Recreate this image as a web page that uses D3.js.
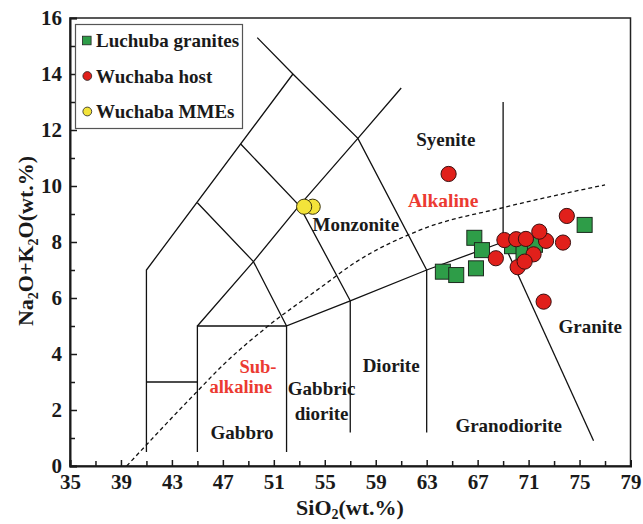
<!DOCTYPE html>
<html>
<head>
<meta charset="utf-8">
<script src="https://cdn.jsdelivr.net/npm/d3@7"></script>
<style>
  body { margin: 0; background: #fff; }
  text { font-family: "Liberation Serif", "Times New Roman", serif; font-weight: bold; fill: #1a1a1a; }
</style>
</head>
<body>
<div id="viz"></div>
<script>
// ---- data: SiO2 (wt.%), Na2O+K2O (wt.%) ----
const X_TICKS = [35, 39, 43, 47, 51, 55, 59, 63, 67, 71, 75, 79];
const Y_TICKS = [0, 2, 4, 6, 8, 10, 12, 14, 16];

const luchubaGranites = [
  [64.27, 6.94], [65.32, 6.82], [66.74, 8.15], [66.87, 7.06], [67.34, 7.71],
  [69.7, 7.85], [70.6, 7.65], [71.5, 7.9], [75.4, 8.61]
];
const wuchabaHost = [
  [64.72, 10.43], [68.43, 7.42], [69.1, 8.07], [70.03, 8.1], [70.79, 8.11],
  [72.37, 8.04], [71.84, 8.37], [73.7, 7.98], [74.0, 8.93],
  [71.39, 7.56], [70.14, 7.1], [70.69, 7.3], [72.18, 5.87]
];
const wuchabaMMEs = [[54.05, 9.26], [53.38, 9.26]];

// field boundaries (Middlemost-style plutonic TAS)
const fieldLines = [
  [[41, 0.5], [41, 7], [52.5, 14]],
  [[41, 3], [45, 3]],
  [[45, 0.5], [45, 5], [52, 5]],
  [[45, 5], [49.4, 7.3], [53, 9.3], [57.6, 11.7], [61, 13.5]],
  [[45, 9.4], [49.4, 7.3], [52, 5]],
  [[48.4, 11.5], [53, 9.3], [57, 5.9]],
  [[49.7, 15.3], [52.5, 14], [57.6, 11.7], [63, 7]],
  [[52, 0.5], [52, 5], [57, 5.9], [63, 7], [69, 8]],
  [[57, 1.2], [57, 5.9]],
  [[63, 1.2], [63, 7]],
  [[69, 8], [69, 13]],
  [[69, 8], [76.1, 0.9]]
];
const alkalineDivide = [
  [39.45, 0], [45.08, 2.71], [47, 3.6], [50.5, 4.98], [54.6, 6.35],
  [57.5, 7.3], [62.5, 8.43], [69.2, 9.25], [77.0, 10.04]
];

const fieldLabels = [
  { lines: ['Syenite'], at: [64.5, 11.43], anchor: 'middle' },
  { lines: ['Monzonite'], at: [54.04, 8.39], anchor: 'start' },
  { lines: ['Granite'], at: [75.84, 4.74], anchor: 'middle' },
  { lines: ['Diorite'], at: [60.21, 3.37], anchor: 'middle' },
  { lines: ['Granodiorite'], at: [69.44, 1.23], anchor: 'middle' },
  { lines: ['Gabbric', 'diorite'], at: [54.75, 2.54], anchor: 'middle' },
  { lines: ['Gabbro'], at: [48.51, 0.95], anchor: 'middle' }
];

const WIDTH = 643;
const HEIGHT = 524;
const PLOT = { left: 70, right: 630.5, top: 18, bottom: 466 };
const RED_TEXT = '#ec3a31';

const svg = d3.select('#viz').append('svg')
  .attr('width', WIDTH)
  .attr('height', HEIGHT);

const x = d3.scaleLinear().domain([35, 79]).range([PLOT.left, PLOT.right]);
const y = d3.scaleLinear().domain([0, 16]).range([PLOT.bottom, PLOT.top]);

// frame
svg.append('rect')
  .attr('x', PLOT.left).attr('y', PLOT.top)
  .attr('width', PLOT.right - PLOT.left).attr('height', PLOT.bottom - PLOT.top)
  .attr('fill', 'none').attr('stroke', '#222').attr('stroke-width', 1.5);

// field boundaries
const line = d3.line().x(d => x(d[0])).y(d => y(d[1]));
svg.append('g').attr('class', 'fields')
  .selectAll('path')
  .data(fieldLines)
  .join('path')
  .attr('d', line)
  .attr('fill', 'none')
  .attr('stroke', '#111')
  .attr('stroke-width', 1.3);

// alkaline / subalkaline divide
svg.append('path')
  .datum(alkalineDivide)
  .attr('d', line.curve(d3.curveMonotoneX))
  .attr('fill', 'none')
  .attr('stroke', '#111')
  .attr('stroke-width', 1.3)
  .attr('stroke-dasharray', '4,3');

// field names
const labels = svg.append('g').attr('class', 'labels');
fieldLabels.forEach(l => {
  const t = labels.append('text')
    .attr('x', x(l.at[0]))
    .attr('y', y(l.at[1]))
    .attr('text-anchor', l.anchor)
    .style('font-size', '19px');
  l.lines.forEach((s, i) => {
    t.append('tspan')
      .attr('x', x(l.at[0]))
      .attr('dy', i === 0 ? 0 : 25)
      .text(s);
  });
});
labels.append('text')
  .attr('x', x(64.29)).attr('y', y(9.26))
  .attr('text-anchor', 'middle')
  .style('font-size', '19.5px').style('fill', RED_TEXT)
  .text('Alkaline');
// two-line red label, kept as one text element
const sub = labels.append('text')
  .attr('y', y(3.32))
  .style('font-size', '18.5px').style('fill', RED_TEXT);
sub.append('tspan').attr('x', x(48.3)).text('Sub-');
sub.append('tspan').attr('x', x(45.95)).attr('dy', 20).text('alkaline');

// axes
const xMinor = d3.range(35, 80, 2);
const yMinor = d3.range(0, 17, 1);
const xAxis = svg.append('g')
  .attr('transform', `translate(0,${PLOT.bottom})`)
  .call(d3.axisBottom(x).tickValues(X_TICKS).tickSize(-6).tickPadding(8));
svg.append('g')
  .attr('transform', `translate(0,${PLOT.bottom})`)
  .call(d3.axisBottom(x).tickValues(xMinor.filter(v => !X_TICKS.includes(v))).tickSize(-5).tickFormat(''))
  .call(g => g.select('.domain').remove());
const yAxis = svg.append('g')
  .attr('transform', `translate(${PLOT.left},0)`)
  .call(d3.axisLeft(y).tickValues(Y_TICKS).tickSize(-7).tickPadding(8));
svg.append('g')
  .attr('transform', `translate(${PLOT.left},0)`)
  .call(d3.axisLeft(y).tickValues(yMinor.filter(v => !Y_TICKS.includes(v))).tickSize(-5).tickFormat(''))
  .call(g => g.select('.domain').remove());

[xAxis, yAxis].forEach(a => {
  a.select('.domain').attr('stroke', '#1a1a1a').attr('stroke-width', 2);
  a.selectAll('text').style('font-size', '21px').attr('fill', '#1a1a1a');
});
svg.selectAll('.tick line').attr('stroke', '#1a1a1a').attr('stroke-width', 1.5);

// axis titles
const xTitle = svg.append('text')
  .attr('x', 350).attr('y', 515)
  .attr('text-anchor', 'middle')
  .style('font-size', '22px');
xTitle.append('tspan').text('SiO');
xTitle.append('tspan').attr('dy', 4).style('font-size', '14px').text('2');
xTitle.append('tspan').attr('dy', -4).text('(wt.%)');

const yTitle = svg.append('text')
  .attr('transform', 'translate(33,241) rotate(-90)')
  .attr('text-anchor', 'middle')
  .style('font-size', '22px');
yTitle.append('tspan').text('Na');
yTitle.append('tspan').attr('dy', 5).style('font-size', '14px').text('2');
yTitle.append('tspan').attr('dy', -5).text('O+K');
yTitle.append('tspan').attr('dy', 5).style('font-size', '14px').text('2');
yTitle.append('tspan').attr('dy', -5).text('O(wt.%)');

// samples
const SQ = 15;
const R = 7.6;
svg.append('g').selectAll('rect')
  .data(luchubaGranites)
  .join('rect')
  .attr('x', d => x(d[0]) - SQ / 2)
  .attr('y', d => y(d[1]) - SQ / 2)
  .attr('width', SQ).attr('height', SQ)
  .attr('fill', '#2e9d48').attr('stroke', '#1c2a1e').attr('stroke-width', 1);
svg.append('g').selectAll('circle')
  .data(wuchabaHost)
  .join('circle')
  .attr('cx', d => x(d[0])).attr('cy', d => y(d[1])).attr('r', R)
  .attr('fill', '#e1201b').attr('stroke', '#3a1010').attr('stroke-width', 1);
svg.append('g').selectAll('circle')
  .data(wuchabaMMEs)
  .join('circle')
  .attr('cx', d => x(d[0])).attr('cy', d => y(d[1])).attr('r', R)
  .attr('fill', '#f3e33a').attr('stroke', '#3a3510').attr('stroke-width', 1);

// legend
const legendItems = [
  { name: 'Luchuba granites', shape: 'square', fill: '#2e9d48' },
  { name: 'Wuchaba host', shape: 'circle', fill: '#e1201b' },
  { name: 'Wuchaba MMEs', shape: 'circle', fill: '#f3e33a' }
];
const legend = svg.append('g').attr('transform', 'translate(75.5,24.5)');
legend.append('rect')
  .attr('width', 167).attr('height', 104)
  .attr('fill', '#fff').attr('stroke', '#555').attr('stroke-width', 1.2);
const item = legend.selectAll('g.item')
  .data(legendItems)
  .join('g')
  .attr('class', 'item')
  .attr('transform', (d, i) => `translate(0,${16 + i * 35.5})`);
item.filter(d => d.shape === 'square').append('rect')
  .attr('x', 7).attr('y', -4.3).attr('width', 8.6).attr('height', 8.6)
  .attr('fill', d => d.fill).attr('stroke', '#222').attr('stroke-width', 0.8);
item.filter(d => d.shape === 'circle').append('circle')
  .attr('cx', 11.8).attr('r', 4.4)
  .attr('fill', d => d.fill).attr('stroke', '#222').attr('stroke-width', 0.8);
item.append('text')
  .attr('x', 20.5).attr('y', 6.8)
  .style('font-size', '19px')
  .text(d => d.name);
</script>
</body>
</html>
